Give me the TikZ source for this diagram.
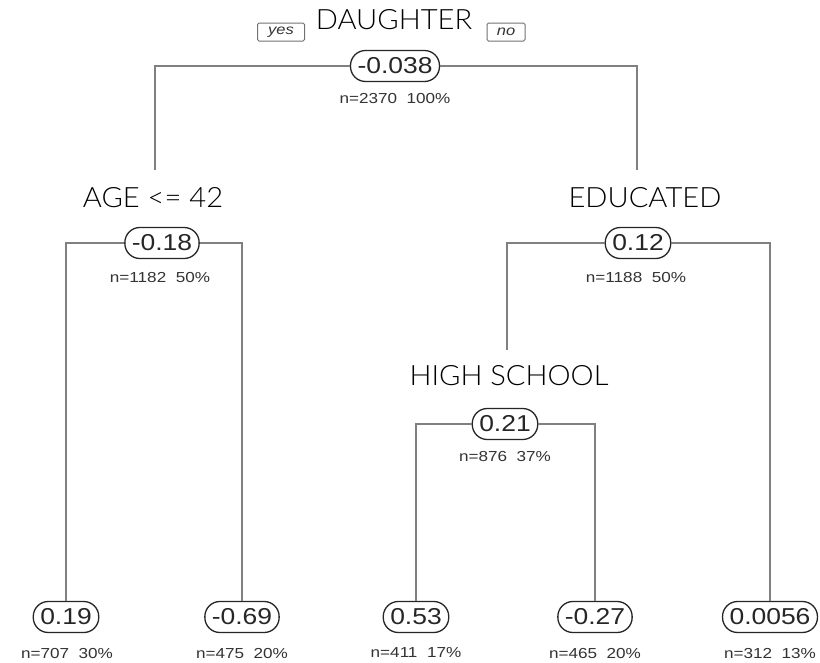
\documentclass[tikz,border=0pt]{standalone}
\usepackage{fontspec}
\setmainfont{Liberation Sans}
\newfontfamily\valfont[FakeStretch=1.15]{Liberation Sans}
\newfontfamily\statfont[FakeStretch=1.18]{Liberation Sans}
\newfontfamily\hdrfont[FakeStretch=1.04]{Lato Light}
\begin{document}
\begin{tikzpicture}[x=1pt,y=-1pt,
  pill/.style={draw=black!85, line width=1.3pt, rounded corners=15pt, minimum height=31pt, inner xsep=7pt, inner ysep=0pt, font=\valfont\fontsize{23}{23}\selectfont, text=black!85, fill=white},
  stat/.style={font=\statfont\fontsize{14.5}{14.5}\selectfont, text=black!80, inner sep=0pt},
  hdr/.style={font=\hdrfont\fontsize{28}{28}\selectfont, inner sep=0pt},
  tag/.style={draw=black!55, line width=1pt, rounded corners=1.5pt, minimum width=47pt, minimum height=18pt, inner sep=0pt, font=\statfont\itshape\fontsize{14}{14}\selectfont, text=black!80},
  branch/.style={draw=black!50, line width=2pt}]
\useasboundingbox (0,0) rectangle (820,662);
\fill[white] (0,0) rectangle (820,662);
% coordinates
\coordinate (ageTop) at (155,170);
\coordinate (eduTop) at (637,170);
\coordinate (hsTop) at (507,350);
% root
\node[hdr] (hRoot) at (394,20) {DAUGHTER};
\node[tag] (yes) at (281,32) {yes};
\node[tag,minimum width=38pt] (no) at (506,32) {no};
\node[pill] (root) at (395,66) {-0.038};
\node[stat] (sRoot) at (395,99) {n=2370\ \ 100\%};
% second level
\node[hdr] (hAge) at (153,198) {AGE <= 42};
\node[pill] (age) at (162,243) {-0.18};
\node[stat] (sAge) at (160,278) {n=1182\ \ 50\%};
\node[hdr] (hEdu) at (645,198) {EDUCATED};
\node[pill] (edu) at (638,243) {0.12};
\node[stat] (sEdu) at (636,278) {n=1188\ \ 50\%};
% third level
\node[hdr] (hHs) at (509,376) {HIGH SCHOOL};
\node[pill] (hs) at (505,424) {0.21};
\node[stat] (sHs) at (505,457) {n=876\ \ 37\%};
% leaves
\node[pill] (l1) at (66,617) {0.19};
\node[stat] (s1) at (67,653) {n=707\ \ 30\%};
\node[pill] (l2) at (242,617) {-0.69};
\node[stat] (s2) at (242,653) {n=475\ \ 20\%};
\node[pill] (l3) at (416,617) {0.53};
\node[stat] (s3) at (416,653) {n=411\ \ 17\%};
\node[pill] (l4) at (595,617) {-0.27};
\node[stat] (s4) at (595,653) {n=465\ \ 20\%};
\node[pill] (l5) at (770,617) {0.0056};
\node[stat] (s5) at (770,653) {n=312\ \ 13\%};
% branches
\path[branch] (root.west) -| (ageTop);
\path[branch] (root.east) -| (eduTop);
\path[branch] (age.west) -| (l1.north);
\path[branch] (age.east) -| (l2.north);
\path[branch] (edu.west) -| (hsTop);
\path[branch] (edu.east) -| (l5.north);
\path[branch] (hs.west) -| (l3.north);
\path[branch] (hs.east) -| (l4.north);
\end{tikzpicture}
\end{document}
